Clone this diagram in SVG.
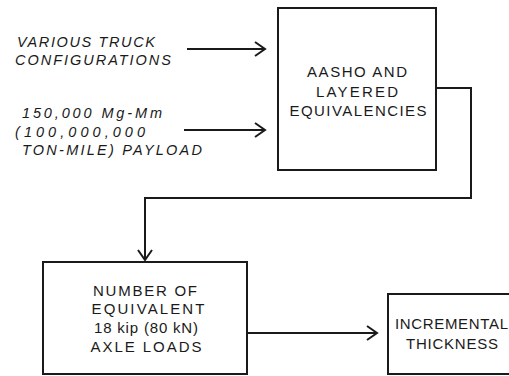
<svg xmlns="http://www.w3.org/2000/svg" width="509" height="376" viewBox="0 0 509 376">
<style>
.box{fill:#fff;stroke:#1a1a1a;stroke-width:2}
.ln{fill:none;stroke:#1a1a1a;stroke-width:2}
.t{font-family:"Liberation Sans",Arial,sans-serif;font-size:15px;fill:#1a1a1a}
.tc{text-anchor:middle}
.it{font-style:italic;font-size:14.5px}
</style>
<defs>
<marker id="ah" markerWidth="14" markerHeight="16" refX="12" refY="8" orient="auto" markerUnits="userSpaceOnUse">
<path d="M2,1 L12,8 L2,15" fill="none" stroke="#1a1a1a" stroke-width="2"/>
</marker>
</defs>
<rect width="509" height="376" fill="#fff"/>
<g id="input1">
<text class="t it" x="17" y="47" textLength="138" lengthAdjust="spacing">VARIOUS TRUCK</text>
<text class="t it" x="15" y="65" textLength="156" lengthAdjust="spacing">CONFIGURATIONS</text>
</g>
<g id="input2">
<text class="t it" x="22" y="118" textLength="140" lengthAdjust="spacing">150,000 Mg-Mm</text>
<text class="t it" x="15" y="137" textLength="130" lengthAdjust="spacing">(100,000,000</text>
<text class="t it" x="22" y="155" textLength="180" lengthAdjust="spacing">TON-MILE) PAYLOAD</text>
</g>
<g id="aasho">
<rect class="box" x="278" y="8" width="158" height="162"/>
<text class="t tc" x="357" y="77" textLength="100" lengthAdjust="spacing">AASHO AND</text>
<text class="t tc" x="357" y="97" textLength="82" lengthAdjust="spacing">LAYERED</text>
<text class="t tc" x="358" y="116" textLength="137" lengthAdjust="spacing">EQUIVALENCIES</text>
</g>
<g id="esal">
<rect class="box" x="43" y="262" width="204" height="112"/>
<text class="t tc" x="145" y="296" textLength="104" lengthAdjust="spacing">NUMBER OF</text>
<text class="t tc" x="148" y="314" textLength="113" lengthAdjust="spacing">EQUIVALENT</text>
<text class="t tc" x="146" y="333" textLength="104" lengthAdjust="spacing">18 kip (80 kN)</text>
<text class="t tc" x="146" y="352" textLength="111" lengthAdjust="spacing">AXLE LOADS</text>
</g>
<g id="incremental">
<rect class="box" x="388" y="294" width="130" height="80"/>
<text class="t" x="395" y="329" textLength="113" lengthAdjust="spacing">INCREMENTAL</text>
<text class="t" x="406" y="349" textLength="92" lengthAdjust="spacing">THICKNESS</text>
</g>
<g id="connectors">
<line class="ln" x1="187" y1="49" x2="265" y2="49" marker-end="url(#ah)"/>
<line class="ln" x1="184" y1="130" x2="265" y2="130" marker-end="url(#ah)"/>
<polyline class="ln" points="436,88 471,88 471,198 145,198 145,260" marker-end="url(#ah)"/>
<line class="ln" x1="247" y1="333" x2="377" y2="333" marker-end="url(#ah)"/>
</g>
</svg>
